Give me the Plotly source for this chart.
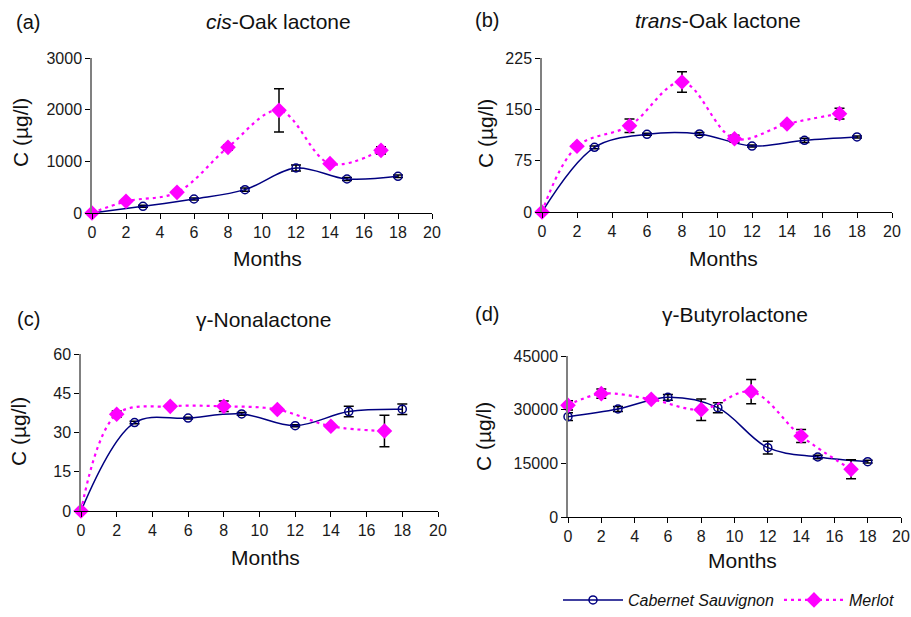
import plotly.graph_objects as go

# ---- data ----
months_cab = [0, 3, 6, 9, 12, 15, 18]
months_mer = [0, 2, 5, 8, 11, 14, 17]

cis_cab = [0, 129, 271, 452, 871, 658, 710]
cis_cab_err = [0, 20, 20, 30, 60, 30, 25]
cis_mer = [0, 226, 400, 1271, 1987, 955, 1213]
cis_mer_err = [0, 20, 20, 50, 420, 20, 70]

trans_cab = [0, 94.5, 113.5, 114, 96.4, 104.7, 109.6]
trans_cab_err = [0, 2, 1.5, 2, 1.5, 3, 1.5]
trans_mer = [0, 96, 126, 190, 107, 128.6, 143.7]
trans_mer_err = [0, 3, 10, 15, 5, 2, 8]

non_cab = [0, 33.8, 35.5, 37.1, 32.6, 38.0, 38.9]
non_cab_err = [0, 0.5, 0.3, 0.5, 0.4, 2.0, 2.0]
non_mer = [0, 37.0, 40.0, 40.0, 38.8, 32.4, 30.6]
non_mer_err = [0, 1.2, 0.5, 2.0, 0.5, 0.5, 6.0]

but_cab = [28043, 30186, 33447, 30559, 19379, 16770, 15466]
but_cab_err = [1100, 700, 800, 1400, 1800, 500, 400]
but_mer = [31211, 34472, 32888, 30000, 35031, 22640, 13323]
but_mer_err = [1300, 1300, 500, 3000, 3400, 1800, 2650]

panel_labels = ["(a)", "(b)", "(c)", "(d)"]
panel_titles = ["<i>cis</i>-Oak lactone", "<i>trans</i>-Oak lactone", "γ-Nonalactone", "γ-Butyrolactone"]
y_max = [3000, 225, 60, 45000]
y_step = [1000, 75, 15, 15000]
x_title = "Months"
y_title = "C (µg/l)"

panels = [
    (cis_cab, cis_cab_err, cis_mer, cis_mer_err),
    (trans_cab, trans_cab_err, trans_mer, trans_mer_err),
    (non_cab, non_cab_err, non_mer, non_mer_err),
    (but_cab, but_cab_err, but_mer, but_mer_err),
]

W, H = 911, 617
# pixel boxes: (x0, x1, ytop, ybottom)
boxes = [(92, 432, 58, 213), (542, 892, 58, 212), (81, 438, 354, 511), (568, 901, 356, 517)]
label_pos = [(28, 22), (487, 20), (28, 319), (487, 314)]
title_pos = [(278, 22), (718, 20), (263, 319), (735, 314)]
xtitle_pos = [(267, 258), (723, 258), (265, 557), (742, 560)]
ytitle_pos = [(20, 133), (485, 133), (18, 432), (483, 437)]

FONT = "Liberation Sans, Arial, sans-serif"
NAVY = "#000080"
MAG = "#FF00FF"

fig = go.Figure()
annotations = []
for i, (cab, cab_e, mer, mer_e) in enumerate(panels):
    n = "" if i == 0 else str(i + 1)
    xa, ya = "x" + n, "y" + n
    fig.add_trace(go.Scatter(
        x=months_cab, y=cab, mode="lines+markers", name="Cabernet Sauvignon",
        line=dict(color=NAVY, width=1.5, shape="spline"),
        marker=dict(symbol="circle-open", size=8, color=NAVY, line=dict(width=1.5, color=NAVY)),
        error_y=dict(type="data", array=cab_e, color="black", thickness=1.5, width=5),
        xaxis=xa, yaxis=ya, showlegend=(i == 0), cliponaxis=False))
    fig.add_trace(go.Scatter(
        x=months_mer, y=mer, mode="lines+markers", name="Merlot",
        line=dict(color=MAG, width=2.2, dash="3px,4px", shape="spline"),
        marker=dict(symbol="diamond", size=12, color=MAG),
        error_y=dict(type="data", array=mer_e, color="black", thickness=1.5, width=5),
        xaxis=xa, yaxis=ya, showlegend=(i == 0), cliponaxis=False))
    x0, x1, yt, yb = boxes[i]
    axcommon = dict(showgrid=False, zeroline=False, ticks="outside", ticklen=5, automargin=False,
                    tickcolor="black", tickfont=dict(family=FONT, size=16, color="#1a1a1a"))
    fig.layout["xaxis" + n] = dict(
        domain=[x0 / W, x1 / W], anchor=ya, range=[0, 20], dtick=2, tick0=0,
        showline=True, linecolor="black", linewidth=1.2, **axcommon)
    fig.layout["yaxis" + n] = dict(
        domain=[1 - yb / H, 1 - yt / H], anchor=xa, range=[0, y_max[i]], dtick=y_step[i], tick0=0,
        tickformat="d", showline=True, linecolor="#808080", linewidth=1.5, **axcommon)
    tf = dict(family=FONT, size=20, color="#111")
    annotations.append(dict(text=panel_labels[i], x=label_pos[i][0] / W, y=1 - label_pos[i][1] / H,
                            xref="paper", yref="paper", showarrow=False,
                            xanchor="center", yanchor="middle", font=tf))
    annotations.append(dict(text=panel_titles[i], x=title_pos[i][0] / W, y=1 - title_pos[i][1] / H,
                            xref="paper", yref="paper", showarrow=False,
                            xanchor="center", yanchor="middle", font=dict(tf, size=21)))
    annotations.append(dict(text=x_title, x=xtitle_pos[i][0] / W, y=1 - xtitle_pos[i][1] / H,
                            xref="paper", yref="paper", showarrow=False,
                            xanchor="center", yanchor="middle", font=dict(tf, size=21)))
    annotations.append(dict(text=y_title, x=ytitle_pos[i][0] / W, y=1 - ytitle_pos[i][1] / H,
                            xref="paper", yref="paper", showarrow=False, textangle=-90,
                            xanchor="center", yanchor="middle", font=dict(tf, size=21)))

fig.update_layout(
    width=W, height=H, margin=dict(l=0, r=0, t=0, b=0),
    paper_bgcolor="white", plot_bgcolor="white",
    annotations=annotations,
    legend=dict(orientation="h", x=558 / W, y=0, xanchor="left", yanchor="bottom",
                font=dict(family=FONT, size=16, color="#111", style="italic"),
                bgcolor="rgba(0,0,0,0)", itemwidth=60),
)

fig.write_html("out.html", config={"displayModeBar": False},
               post_script="document.body.style.margin='0px';document.body.style.overflow='hidden';")
